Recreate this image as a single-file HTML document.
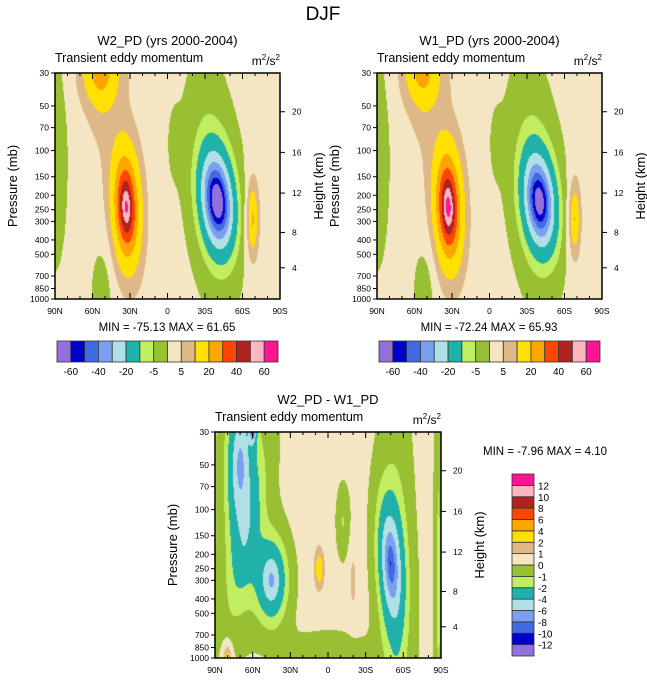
<!DOCTYPE html>
<html><head><meta charset="utf-8">
<style>
body{margin:0;background:#fff;font-family:"Liberation Sans",sans-serif;}
#wrap{position:relative;width:647px;height:683px;overflow:hidden;}
canvas{position:absolute;}
svg{position:absolute;left:0;top:0;}
</style></head>
<body>
<div id="wrap">
<canvas id="c1"></canvas>
<canvas id="c2"></canvas>
<canvas id="c3"></canvas>
<svg id="s" width="647" height="683">
<text x="323" y="20" font-size="19" text-anchor="middle">DJF</text>
</svg>
</div>
<script>
// ---- data ----
const presTicks = [30,50,70,100,150,200,250,300,400,500,700,850,1000];
const latTicks = [90,60,30,0,-30,-60,-90];
const latLabels = ["90N","60N","30N","0","30S","60S","90S"];
const heightTicks = [4,8,12,16,20];
const colors = ["#9370DB","#0000CD","#4169E1","#7B9FF0","#B0E0E6","#20B2AA","#C0EE60","#99BF33","#F5E6C3","#DEB887","#FFE000","#FFA500","#FF4500","#B22222","#FFB6C1","#FF1493"];
const levelsTop = [-60,-50,-40,-30,-20,-10,-5,0,5,10,20,30,40,50,60];
const levelsDiff = [-12,-10,-8,-6,-4,-2,-1,0,1,2,4,6,8,10,12];
const topBarLabels = ["-60","-40","-20","-5","5","20","40","60"];
const diffBarLabels = ["-12","-10","-8","-6","-4","-2","-1","0","1","2","4","6","8","10","12"];

// panel 1 blobs (lat, pressure, amplitude, lat-width, y-width, tilt)
const p1Lat = [52,54,33,90,-40,-35,-68,52,-5];
const p1P   = [35,30,240,100,220,150,290,900,90];
const p1Amp = [6,22,62,-6,-80,-7,22,-6,-3];
const p1Sx  = [12,12,8,10,9.5,18,4,8,5];
const p1Sy  = [0.3,0.11,0.19,0.5,0.16,0.5,0.14,0.2,0.15];
const p1Tilt= [0,0,-5,0,-12,-10,0,0,0];
const p1Base = 2;
// panel 2 blobs
const p2Lat = [52,54,33,90,-40,-35,-68,52,-5];
const p2P   = [35,30,240,100,220,150,290,900,90];
const p2Amp = [6,20,66,-6,-73,-7,20,-6,-3];
const p2Sx  = [12,12,8,10,9.5,18,4,8,5];
const p2Sy  = [0.3,0.11,0.19,0.5,0.16,0.5,0.14,0.2,0.15];
const p2Tilt= [0,0,-5,0,-12,-10,0,0,0];
const p2Base = 2;
// difference blobs
const p3Lat = [70,60,45,65,-50,-50,7,80,-88,-12,0,-20,-55];
const p3P   = [50,30,300,150,230,250,250,1000,300,120,900,300,500];
const p3Amp = [-7,-9,-7,-2.5,-8,-1.5,3.5,3,-1.8,-1.5,-1.4,1.3,-1.5];
const p3Sx  = [9,2,10,12,7,10,3,3,3,5,25,2.5,12];
const p3Sy  = [0.3,0.04,0.15,0.4,0.2,0.35,0.07,0.06,1,0.15,0.08,0.12,1];
const p3Tilt= [0,0,0,30,-8,-8,0,0,0,0,0,0,0];
const p3Base = 0.4;

// ---- helpers ----
const LN = Math.log(1000/30);
function yf(p){return Math.log(p/30)/LN;}
function pFromZ(z){return z<11?1013.25*Math.pow(1-z/44.33,5.256):226.3*Math.exp(-(z-11)/6.34);}
const NS='http://www.w3.org/2000/svg';
const svg=document.getElementById('s');
function el(tag,attrs,txt){const e=document.createElementNS(NS,tag);for(const k in attrs)e.setAttribute(k,attrs[k]);if(txt!==undefined)e.textContent=txt;svg.appendChild(e);return e;}
function field(lat,y,base,L,P,A,SX,SY,T){let v=base;for(let i=0;i<L.length;i++){const yc=yf(P[i]);const lc=L[i]+T[i]*(y-yc);const dx=(lat-lc)/SX[i],dy=(y-yc)/SY[i];v+=A[i]*Math.exp(-Math.pow(dx*dx+dy*dy,0.7));}return v;}
function colorOf(v,levels){let k=0;while(k<levels.length&&v>=levels[k])k++;return colors[k];}
function hex(c){return [parseInt(c.substr(1,2),16),parseInt(c.substr(3,2),16),parseInt(c.substr(5,2),16)];}

function panel(id,x0,y0,w,h,base,L,P,A,SX,SY,T,levels,title,minmax,mmx,mmy){
  const cv=document.getElementById(id);
  cv.width=w;cv.height=h;cv.style.left=x0+'px';cv.style.top=y0+'px';
  const ctx=cv.getContext('2d');const img=ctx.createImageData(w,h);
  for(let j=0;j<h;j++)for(let i=0;i<w;i++){
    const lat=90-180*(i+0.5)/w;const y=(j+0.5)/h;
    const c=hex(colorOf(field(lat,y,base,L,P,A,SX,SY,T),levels));
    const o=(j*w+i)*4;img.data[o]=c[0];img.data[o+1]=c[1];img.data[o+2]=c[2];img.data[o+3]=255;}
  ctx.putImageData(img,0,0);
  const X=lat=>x0+(90-lat)/180*w, Y=p=>y0+yf(p)*h;
  let t=el('rect',{x:x0,y:y0,width:w,height:h,fill:'none',stroke:'#000','stroke-width':1.5});
  
  
  t=el('text',{x:x0+w/2,y:y0-28,'font-size':13,'text-anchor':'middle'},title);
  
  
  t=el('text',{x:x0,y:y0-11,'font-size':12.5},'Transient eddy momentum');
  
  
  t=el('text',{x:x0+w,y:y0-8,'font-size':12,'text-anchor':'end'});
  t.innerHTML='m<tspan dy="-5" font-size="8">2</tspan><tspan dy="5">/s</tspan><tspan dy="-5" font-size="8">2</tspan>';
  
  
  presTicks.forEach(p=>{
    el('line',{x1:x0-4,x2:x0,y1:Y(p),y2:Y(p),stroke:'#000'});
    t=el('text',{x:x0-6,y:Y(p)+3,'font-size':8.5,'text-anchor':'end'},p);
    
    
  });
  for(let l=90;l>=-90;l-=10){const len=(l%30===0)?6:3;
    el('line',{x1:X(l),x2:X(l),y1:y0,y2:y0+len,stroke:'#000'});
    el('line',{x1:X(l),x2:X(l),y1:y0+h,y2:y0+h-len,stroke:'#000'});}
  latTicks.forEach((l,i)=>{t=el('text',{x:X(l),y:y0+h+15,'font-size':8.5,'text-anchor':'middle'},latLabels[i]);
    
    });
  heightTicks.forEach(z=>{const yy=Y(pFromZ(z));
    el('line',{x1:x0+w,x2:x0+w+5,y1:yy,y2:yy,stroke:'#000'});
    t=el('text',{x:x0+w+12,y:yy+3,'font-size':8.5},z);
    
    });
  t=el('text',{transform:`translate(${x0-38},${y0+h/2}) rotate(-90)`,'font-size':13,'text-anchor':'middle'},'Pressure (mb)');
  
  
  t=el('text',{transform:`translate(${x0+w+43},${y0+h/2}) rotate(-90)`,'font-size':13,'text-anchor':'middle'},'Height (km)');
  
  
  t=el('text',{x:mmx,y:mmy,'font-size':11.5,'text-anchor':'middle','xml:space':'preserve'},minmax);
  
  
}
function hbar(x0,y0,w,h){const bw=w/colors.length;
  colors.forEach((c,i)=>{const r=el('rect',{x:x0+i*bw,y:y0,width:bw,height:h,fill:c,stroke:'#333','stroke-width':0.8});
    
    });
  topBarLabels.forEach((s,i)=>{const t=el('text',{x:x0+(1+2*i)*bw,y:y0+h+13,'font-size':10,'text-anchor':'middle'},s);
    
    });
}
panel('c1',55,73,225,226,p1Base,p1Lat,p1P,p1Amp,p1Sx,p1Sy,p1Tilt,levelsTop,'W2_PD (yrs 2000-2004)','MIN = -75.13  MAX =  61.65',167,331);
panel('c2',377,73,225,226,p2Base,p2Lat,p2P,p2Amp,p2Sx,p2Sy,p2Tilt,levelsTop,'W1_PD (yrs 2000-2004)','MIN = -72.24  MAX = 65.93',489,331);
panel('c3',215,432,226,226,p3Base,p3Lat,p3P,p3Amp,p3Sx,p3Sy,p3Tilt,levelsDiff,'W2_PD - W1_PD','MIN =  -7.96  MAX =   4.10',545,455);
hbar(57,341,221,21);
hbar(379,341,221,21);
// vertical colorbar
(function(){const x0=512,y0=474,w=22,h=182,bh=h/colors.length;
  for(let i=0;i<colors.length;i++){const r=el('rect',{x:x0,y:y0+(colors.length-1-i)*bh,width:w,height:bh,fill:colors[i],stroke:'#333','stroke-width':0.8});
    
    }
  diffBarLabels.forEach((s,i)=>{const t=el('text',{x:x0+w+4,y:y0+(colors.length-1-i)*bh+4,'font-size':10},s);
    
    });
})();
</script>
</body></html>
